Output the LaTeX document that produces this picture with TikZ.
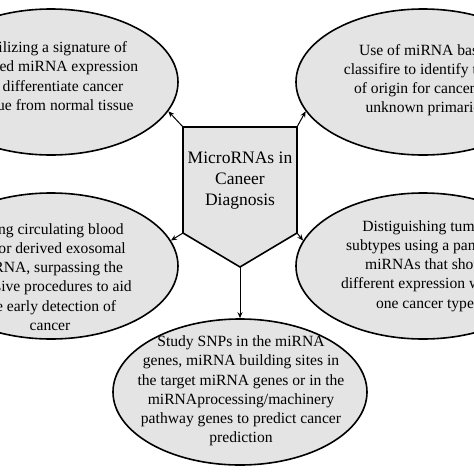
\documentclass[tikz,border=0pt]{standalone}
\usepackage{fontspec}
\setmainfont{Liberation Serif}
\usetikzlibrary{shapes.geometric,arrows.meta}
\definecolor{fillgray}{HTML}{E4E4E4}
\begin{document}
\begin{tikzpicture}[x=1pt,y=-1pt,
  bubble/.style={ellipse,draw,line width=1.6pt,fill=fillgray,minimum width=254pt,minimum height=146pt,inner sep=0pt},
  btext/.style={align=center,font=\fontsize{15.6}{19.2}\selectfont,inner sep=0pt},
  ctext/.style={align=center,font=\fontsize{17.5}{21}\selectfont,inner sep=0pt},
  conn/.style={line width=1pt,-{Stealth[length=6pt,width=5pt]}}]
\useasboundingbox (0,0) rectangle (474,474);
\clip (0,0) rectangle (474,474);
% ellipses
\node[bubble] (tl) at (51,82) {};
\node[bubble] (tr) at (423,82) {};
\node[bubble] (ml) at (51,266) {};
\node[bubble] (mr) at (423,266) {};
\node[bubble] (bt) at (240,392) {};
% texts
\node[btext] (tlt) at (55,76) {Utilizing a signature of\\altered miRNA expression\\to differentiate cancer\\tissue from normal tissue};
\node[btext] (trt) at (426,80) {Use of miRNA based\\classifire to identify tissue\\of origin for cancers of\\unknown primaries};
\node[btext] (mlt) at (50,277) {Using circulating blood\\tumor derived exosomal\\miRNA, surpassing the\\invasive procedures to aid\\the early detection of\\cancer};
\node[btext] (mrt) at (425,266) {Distiguishing tumor\\subtypes using a panel of\\miRNAs that show\\different expression within\\one cancer type};
\node[btext] (btt) at (241,391) {Study SNPs in the miRNA\\genes, miRNA building sites in\\the target miRNA genes or in the\\miRNAprocessing/machinery\\pathway genes to predict cancer\\prediction};
% centre shape
\draw[line width=1.6pt,fill=fillgray,line join=miter]
  (183,127) coordinate (p1) -- (297,127) coordinate (p2) -- (297,233) coordinate (p3)
  -- (240,267) coordinate (p4) -- (183,233) coordinate (p5) -- cycle;
\node[ctext] (c) at (240,181) {MicroRNAs in\\Caneer\\Diagnosis};
% connectors
\draw[conn] (p1) -- (tl.-14.6);
\draw[conn] (p2) -- (tr.194.4);
\draw[conn] (p5) -- (ml.12.5);
\draw[conn] (p3) -- (mr.168.6);
\draw[conn] (p4) -- (bt.north);
\end{tikzpicture}
\end{document}
